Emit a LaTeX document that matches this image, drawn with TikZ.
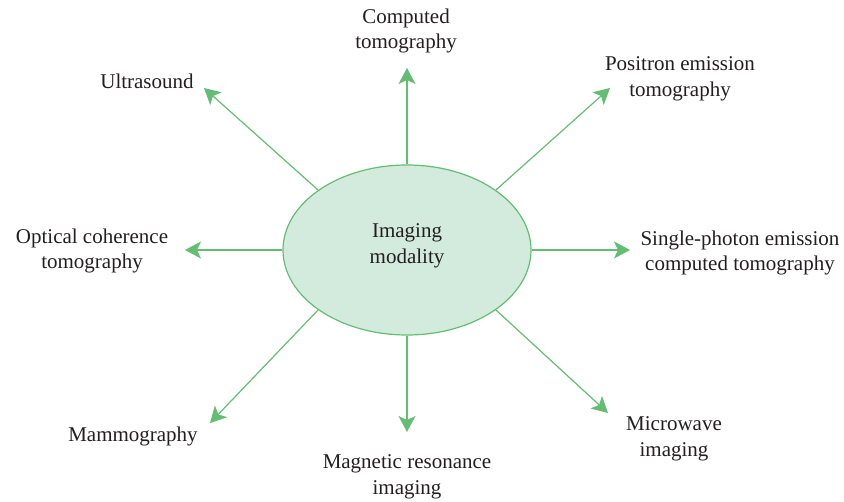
\documentclass[tikz,border=0pt]{standalone}
\usepackage{fontspec}
\setmainfont{Liberation Serif}
\usetikzlibrary{arrows.meta,shapes.geometric}
\definecolor{lgreen}{HTML}{63BD73}
\definecolor{efill}{HTML}{D3EBDC}
\definecolor{txt}{HTML}{231F20}
\begin{document}
\begin{tikzpicture}[x=1pt,y=-1pt,
  lbl/.style={text=txt,align=center,font=\fontsize{21}{25.5}\selectfont,inner sep=0pt},
  arr/.style={draw=lgreen,line width=1.2pt,-{Stealth[length=16pt,width=17pt,inset=4pt]}}]
\useasboundingbox (0,0) rectangle (844,502);
\node[ellipse,draw=lgreen,fill=efill,line width=1.2pt,minimum width=248pt,minimum height=170pt,inner sep=0pt] (e) at (407,250) {};
\node[lbl] (core) at (407,246) {Imaging\\modality};

\node[lbl] (ct) at (406,31) {Computed\\tomography};
\node[lbl] (us) at (147,81) {Ultrasound};
\node[lbl] (pet) at (680,79) {Positron emission\\tomography};
\node[lbl] (oct) at (92,251) {Optical coherence\\tomography};
\node[lbl] (spect) at (740,253) {Single-photon emission\\computed tomography};
\node[lbl] (mam) at (133,436) {Mammography};
\node[lbl] (mri) at (407,477) {Magnetic resonance\\imaging};
\node[lbl] (mw) at (674,439) {Microwave\\imaging};

\coordinate (tct) at (407,68);
\coordinate (tus) at (204,88);
\coordinate (tpet) at (610,88);
\coordinate (toct) at (185,250);
\coordinate (tspect) at (630,250);
\coordinate (tmam) at (210,423);
\coordinate (tmri) at (407,432);
\coordinate (tmw) at (608,413);

\draw[arr] (e.north) -- (tct);
\draw[arr] (e.146) -- (tus);
\draw[arr] (e.34) -- (tpet);
\draw[arr] (e.west) -- (toct);
\draw[arr] (e.east) -- (tspect);
\draw[arr] (e.214) -- (tmam);
\draw[arr] (e.south) -- (tmri);
\draw[arr] (e.326) -- (tmw);
\end{tikzpicture}
\end{document}
